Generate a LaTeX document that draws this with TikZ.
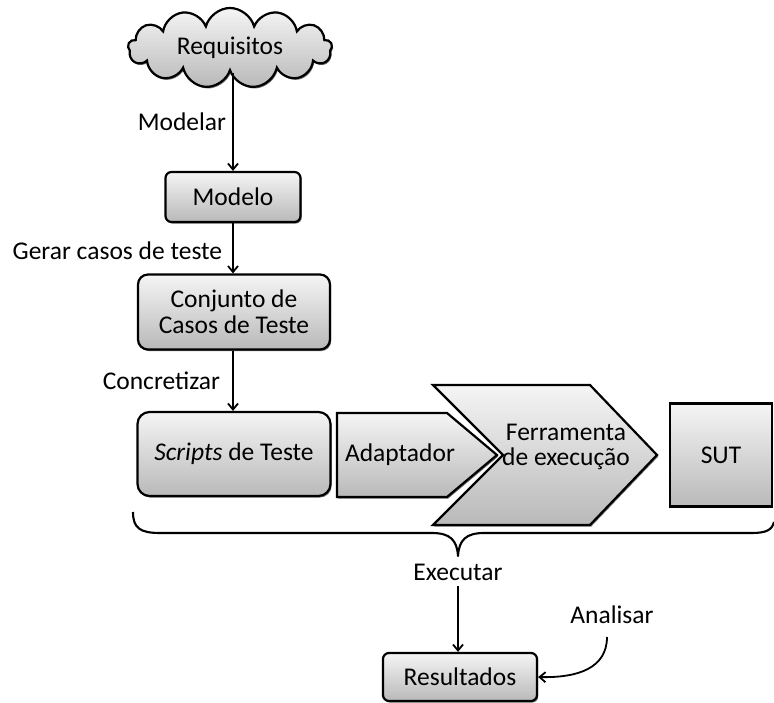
\documentclass[tikz,border=0pt]{standalone}
\usepackage{fontspec}
\setmainfont{Carlito}
\usetikzlibrary{shapes.symbols,arrows.meta,shadows}

\begin{document}
\begin{tikzpicture}[x=1pt,y=-1pt,
  txt/.style={font=\fontsize{25.5}{25}\selectfont, align=center},
  shade/.style={top color=gray!8, bottom color=gray!55, draw=black, line width=2.2pt},
  shadowed/.style={drop shadow={shadow xshift=1.2pt, shadow yshift=-1.6pt, opacity=.55, fill=black}},
  box/.style={shade, shadowed, txt, inner sep=2pt},
  conn/.style={line width=1.8pt, -{Straight Barb[length=6pt,width=10pt]}},
  lbl/.style={txt, inner sep=0pt}]
\useasboundingbox (0,0) rectangle (774,703);

% requirements cloud
\node[box, cloud, cloud puffs=13, cloud ignores aspect, minimum width=204, minimum height=80] (req) at (230,48) {Requisitos};

% model and test case set
\node[box, rounded corners=6pt, minimum width=135, minimum height=50] (modelo) at (233,197) {Modelo};
\node[box, rounded corners=10pt, minimum width=192, minimum height=75] (conj) at (234,312) {Conjunto de\\[1pt]Casos de Teste};

% execution chain
\node[box, rounded corners=12pt, minimum width=193, minimum height=84] (scripts) at (234,454) {\textit{Scripts} de Teste};
\filldraw[shade, shadowed] (337,413) -- (447,413) -- (497,455) -- (447,497) -- (337,497) -- cycle;
\node[lbl] (adapt) at (400,455) {Adaptador};
\filldraw[shade, shadowed] (433,385) -- (590,385) -- (657,455) -- (590,525) -- (433,525) -- (503,455) -- cycle;
\node[lbl] (ferr) at (566,447) {Ferramenta\\de execução};
\node[box, rectangle, minimum width=102, minimum height=103] (sut) at (721,455) {SUT};

% brace under the execution chain
\draw[line width=2.1pt, line join=round]
  (133,512) .. controls (133,528) and (140,533) .. (160,533) -- (432,533)
  .. controls (450,533) and (457,540) .. (458,556)
  .. controls (459,540) and (466,533) .. (484,533) -- (752,533)
  .. controls (766,533) and (772,530) .. (774,522);

\node[txt, inner xsep=0pt, inner ysep=6pt] (exec) at (458,572) {Executar};
\node[box, rounded corners=6pt, minimum width=154, minimum height=48] (res) at (460,677) {Resultados};
\node[lbl] (anal) at (612,615) {Analisar};
\coordinate (astart) at (607,637);

% connectors
\draw[conn] (modelo.north |- req.south) -- node[lbl, left=6pt] {Modelar} (modelo.north);
\draw[conn] (modelo.south) -- node[lbl, left=10pt, yshift=-2pt] {Gerar casos de teste} (conj.north -| modelo.south);
\draw[conn] (conj.south -| modelo.south) -- node[lbl, left=12pt] {Concretizar} (scripts.north -| modelo.south);
\draw[conn] (exec.south) -- (exec.south |- res.north);
\draw[conn] (astart) .. controls (607,668) and (578,678) .. (res.east);
\end{tikzpicture}
\end{document}
